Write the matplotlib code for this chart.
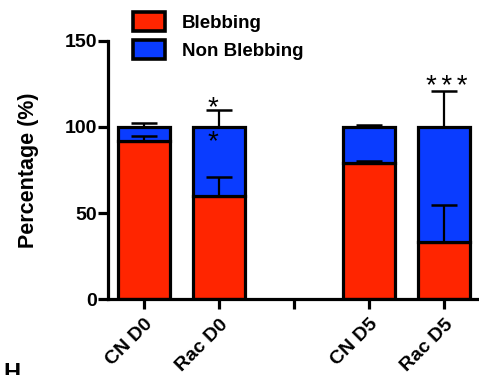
import matplotlib
matplotlib.use("Agg")
import matplotlib.pyplot as plt

plt.rcParams['font.family'] = ['Liberation Sans', 'DejaVu Sans']

# Groups and their bar positions (slot 2 is a spacer between days)
tick_labels = ['CN D0', 'Rac D0', '', 'CN D5', 'Rac D5']
positions = [0, 1, 3, 4]

# Mean percentages and upper SEM for each group
blebbing = [92, 60, 79, 33]
blebbing_err = [2.5, 11, 1.0, 21.5]
non_blebbing = [8, 40, 21, 67]
non_blebbing_err = [2.2, 9.7, 1.2, 21]

# Significance marks: (position, y value, text)
stars = [(0.92, 106.6, '*'), (0.92, 86.8, '*'), (4.04, 119.3, '*\u2006*\u2006*')]

red = '#ff2500'
blue = '#0a3cff'

fig = plt.figure(figsize=(4.79, 3.75), dpi=100)
ax = fig.add_axes([108 / 479, (375 - 299.3) / 375, 373.5 / 479, 258.6 / 375])

width = 0.69
lw = 2.3
b1 = ax.bar(positions, blebbing, width, color=red, edgecolor='black',
            linewidth=lw, label='Blebbing', zorder=2)
tops = [b + n for b, n in zip(blebbing, non_blebbing)]
b2 = ax.bar(positions, non_blebbing, width, bottom=blebbing, color=blue,
            edgecolor='black', linewidth=lw, label='Non Blebbing', zorder=2)

ax.errorbar(positions, tops, yerr=[[0] * 4, non_blebbing_err], fmt='none',
            ecolor='black', elinewidth=1.6, capsize=9.5, capthick=1.8, zorder=3)
ax.errorbar(positions, blebbing, yerr=[[0] * 4, blebbing_err], fmt='none',
            ecolor='black', elinewidth=1.6, capsize=9.5, capthick=1.8, zorder=3)

for x, y, s in stars:
    ax.text(x, y, s, ha='center', va='baseline', fontsize=20, zorder=4)

ax.set_xlim(-0.48, 4.5)
ax.set_ylim(0, 150)
ax.set_yticks([0, 50, 100, 150])
ax.set_xticks(range(len(tick_labels)))
ax.set_xticklabels(tick_labels, rotation=45, ha='right',
                   rotation_mode='anchor', fontsize=14, fontweight='bold')
for t in ax.get_yticklabels():
    t.set_fontsize(14)
    t.set_fontweight('bold')

for side in ('top', 'right'):
    ax.spines[side].set_visible(False)
for side in ('left', 'bottom'):
    ax.spines[side].set_linewidth(lw)
ax.tick_params(axis='both', width=lw, length=7, direction='out')
ax.tick_params(axis='y', pad=1)
ax.tick_params(axis='x', pad=5)

ax.set_ylabel('Percentage (%)', fontsize=15.5, fontweight='bold', labelpad=18)

leg = ax.legend(handles=[b1, b2], loc='upper left',
                bbox_to_anchor=(133 / 479, 1 - 12 / 375),
                bbox_transform=fig.transFigure, frameon=False,
                prop={'weight': 'bold', 'size': 13.5},
                handlelength=1.72, handleheight=1.15, labelspacing=0.45,
                handletextpad=0.9, borderpad=0, borderaxespad=0)
for h in leg.legend_handles:
    h.set_linewidth(2.6)

# Panel letter of the next figure, cut by the bottom edge
fig.text(3 / 479, -5 / 375, 'H', fontsize=17, fontweight='bold',
         ha='left', va='baseline')

fig.savefig('out.png', dpi=100)
